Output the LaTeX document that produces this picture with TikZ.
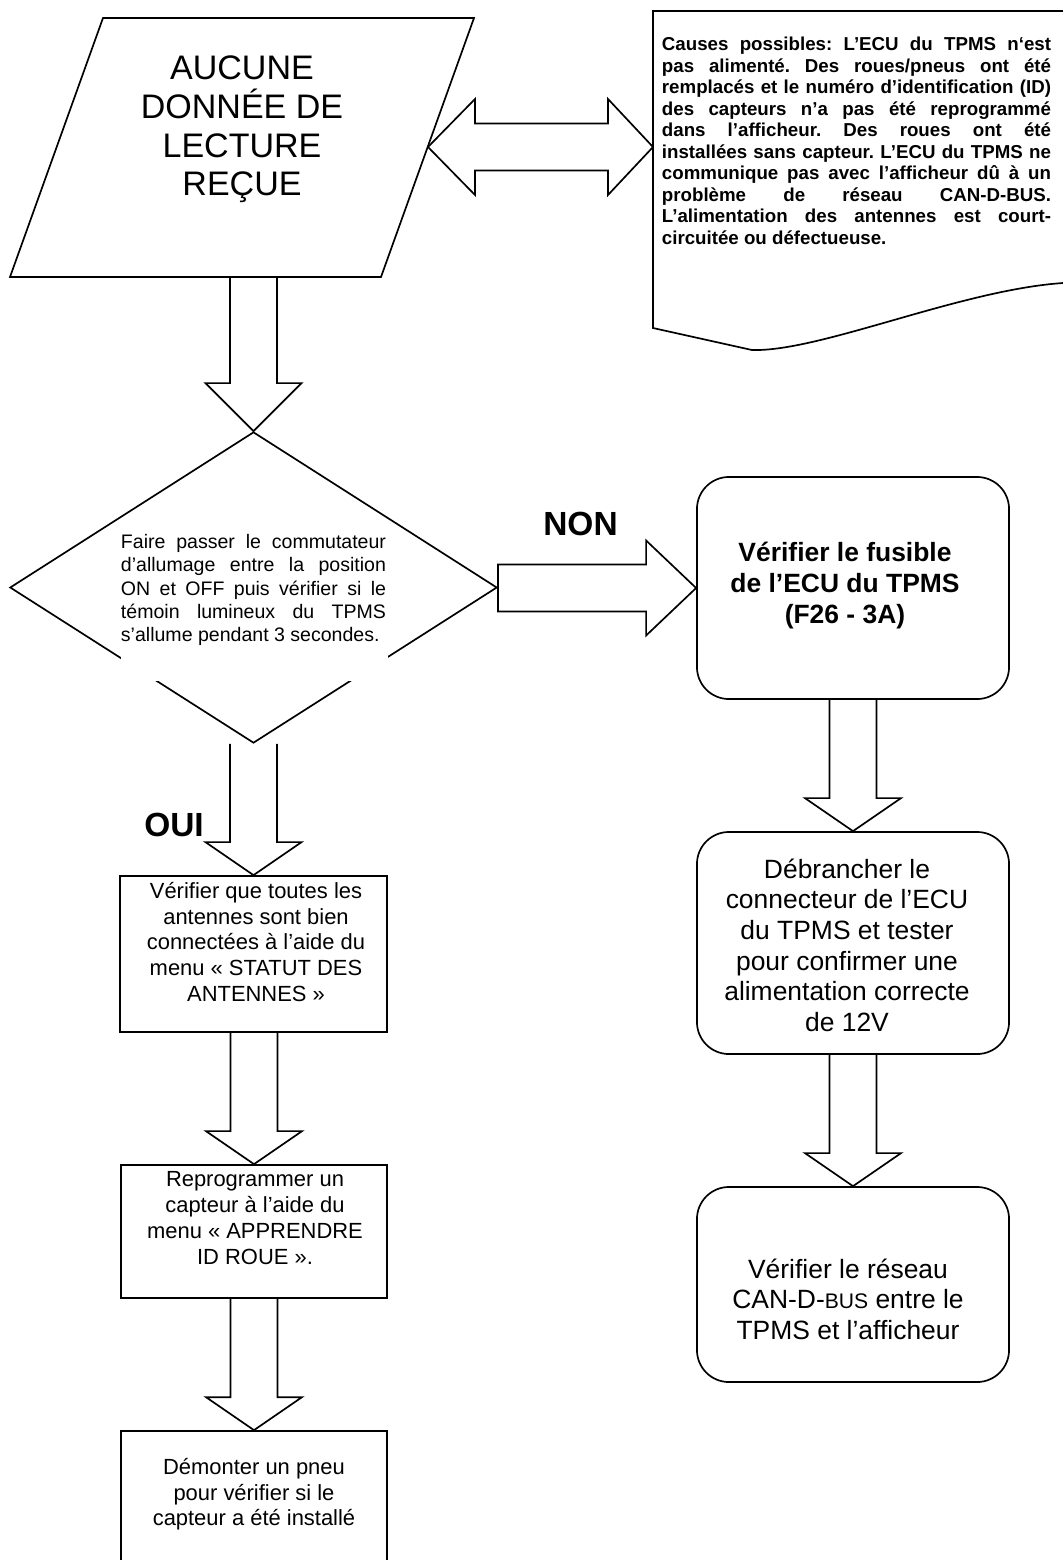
\documentclass[tikz,border=0pt]{standalone}
\usepackage{fontspec}
\setmainfont{Liberation Sans}
\frenchspacing
\usetikzlibrary{calc}
\usetikzlibrary{shapes.geometric}
\tikzstyle{outline}=[line width=1.2pt]
\tikzstyle{plainbox}=[outline,draw,rectangle,inner sep=0pt]
\tikzstyle{roundbox}=[plainbox,rounded corners=0.8cm]
\tikzstyle{decision}=[outline,draw,diamond,inner sep=0pt,minimum width=12.175cm,minimum height=7.775cm]
\tikzstyle{titletext}=[align=center,inner sep=0pt,font=\fontsize{24.2}{27.5}\selectfont]
\tikzstyle{causetext}=[align=justify,inner sep=0pt,text width=9.725cm,font=\bfseries\fontsize{13.3}{15.3}\selectfont]
\tikzstyle{dectext}=[align=justify,inner sep=0pt,text width=6.625cm,font=\fontsize{13.9}{16.6}\selectfont]
\tikzstyle{lefttext}=[align=center,inner sep=0pt,font=\fontsize{15.6}{18.3}\selectfont]
\tikzstyle{righttext}=[align=center,inner sep=0pt,font=\fontsize{18.8}{21.8}\selectfont]
\tikzstyle{yesno}=[inner sep=0pt,font=\bfseries\fontsize{23.8}{28}\selectfont]
\newcommand{\downblock}[3][33]{% Syntax: [head length] {from} {to}, shaft centred on the tip
  \draw[outline] ($(#2 -| #3)+(-23.5,0)$) -- ($(#3)+(-23.5,-#1)$) -- ($(#3)+(-48,-#1)$) -- (#3)
    -- ($(#3)+(48,-#1)$) -- ($(#3)+(23.5,-#1)$) -- ($(#2 -| #3)+(23.5,0)$);
}
\newcommand{\rightblock}[3][50]{% Syntax: [head length] {from} {to}, closed at the tail
  \draw[outline] ($(#2 |- #3)+(0,-23.5)$) -- ($(#3)+(-#1,-23.5)$) -- ($(#3)+(-#1,-47.5)$) -- (#3)
    -- ($(#3)+(-#1,47.5)$) -- ($(#3)+(-#1,23.5)$) -- ($(#2 |- #3)+(0,23.5)$) -- cycle;
}
\begin{document}
\begin{tikzpicture}[x=0.025cm,y=-0.025cm]
\useasboundingbox (0,0) rectangle (1063,1560);
\clip (0,0) rectangle (1063,1560);
% start shape
\draw[outline] (103,18) -- (474,18) -- (381,277) -- (10,277) -- cycle;
\coordinate (paraeast) at (428,147);
\coordinate (parasouth) at (255.5,277);
\node[titletext] (title) at (242,129.5) {AUCUNE\\DONNÉE DE\\LECTURE\\REÇUE};
% document with the possible causes
\draw[outline] (1070,11) -- (653,11) -- (653,328) -- (752,350) .. controls (820,352) and (960,290) .. (1063,283) -- (1070,283);
\coordinate (docwest) at (653,147);
\node[causetext] (causes) at (856.5,141) {Causes possibles: L’ECU du TPMS n‘est\linebreak
pas alimenté. Des roues/pneus ont été\linebreak
remplacés et le numéro d’identification (ID)\linebreak
des capteurs n’a pas été reprogrammé\linebreak
dans l’afficheur. Des roues ont été\linebreak
installées sans capteur. L’ECU du TPMS ne\linebreak
communique pas avec l’afficheur dû à un\linebreak
problème de réseau CAN-D-BUS.\linebreak
L’alimentation des antennes est court-\linebreak
circuitée ou défectueuse.};
% double arrow between them
\draw[outline] (paraeast) -- ($(paraeast)+(47,-48)$) -- ($(paraeast)+(47,-23.5)$) -- ($(docwest)+(-45,-23.5)$)
  -- ($(docwest)+(-45,-48)$) -- (docwest) -- ($(docwest)+(-45,48)$) -- ($(docwest)+(-45,23.5)$)
  -- ($(paraeast)+(47,23.5)$) -- ($(paraeast)+(47,48)$) -- cycle;
% decision
\node[decision] (dec) at (253.5,587.5) {};
\fill[white] (121,650) rectangle (388,681); % text box hides part of the lower edges
\node[dectext] (dectxt) at (253.5,590) {Faire passer le commutateur\linebreak
d’allumage entre la position\linebreak
ON et OFF puis vérifier si le\linebreak
témoin lumineux du TPMS\linebreak
s’allume pendant 3 secondes.};
\downblock[48]{parasouth}{dec.north}
% OUI branch
\node[plainbox,minimum width=6.675cm,minimum height=3.9cm] (antennas) at (253.5,954) {};
\node[lefttext] (antennastxt) at (256,942) {Vérifier que toutes les\\antennes sont bien\\connectées à l’aide du\\menu « STATUT DES\\ANTENNES »};
\node[plainbox,minimum width=6.65cm,minimum height=3.325cm] (relearn) at (254,1231.5) {};
\node[lefttext] (relearntxt) at (255,1218) {Reprogrammer un\\capteur à l’aide du\\menu « APPRENDRE\\ID ROUE ».};
\node[plainbox,minimum width=6.65cm,minimum height=3.475cm] (tyre) at (254,1500.5) {};
\node[lefttext] (tyretxt) at (254,1494.3) {Démonter un pneu\\pour vérifier si le\\capteur a été installé};
\downblock{dec.south}{antennas.north}
\downblock{antennas.south}{relearn.north}
\downblock{relearn.south}{tyre.north}
\node[yesno] (yes) at (174,824.6) {OUI};
% NON branch
\node[roundbox,minimum width=7.8cm,minimum height=5.55cm] (fuse) at (853,588) {};
\node[righttext,font=\bfseries\fontsize{18.8}{21.8}\selectfont] (fusetxt) at (845,585.6) {Vérifier le fusible\\de l’ECU du TPMS\\(F26 - 3A)};
\node[roundbox,minimum width=7.8cm,minimum height=5.55cm] (supply) at (853,943) {};
\node[righttext] (supplytxt) at (847,945.3) {Débrancher le\\connecteur de l’ECU\\du TPMS et tester\\pour confirmer une\\alimentation correcte\\de 12V};
\node[roundbox,minimum width=7.8cm,minimum height=4.875cm] (network) at (853,1284.5) {};
\node[righttext] (networktxt) at (848,1299.3) {Vérifier le réseau\\CAN-D-{\fontsize{15}{18}\selectfont BUS} entre le\\TPMS et l’afficheur};
\rightblock{dec.east}{fuse.west}
\downblock{fuse.south}{supply.north}
\downblock{supply.south}{network.north}
\node[yesno] (no) at (580.5,523.6) {NON};
\end{tikzpicture}
\end{document}
